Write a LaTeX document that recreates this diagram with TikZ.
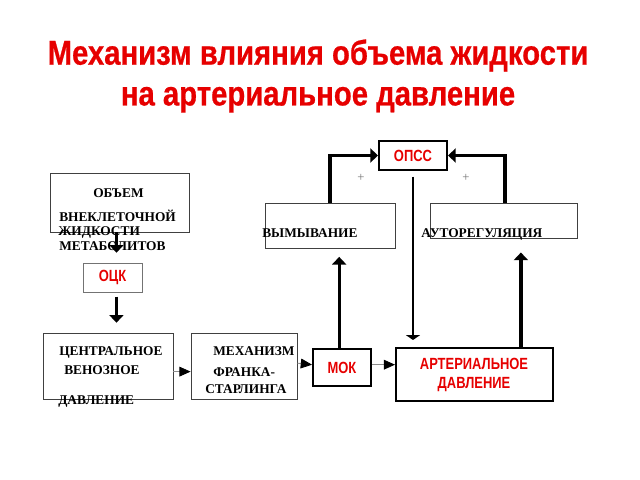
\documentclass[tikz,border=0pt]{standalone}
\usepackage{fontspec}
\setmainfont{Liberation Serif}
\newfontfamily\redfont[FakeStretch=0.8]{Liberation Sans}
\newfontfamily\headfont[FakeStretch=0.85,FakeBold=0.6]{Liberation Sans}
\usetikzlibrary{arrows.meta,fit}

\definecolor{schemered}{RGB}{230,0,0}

\tikzset{
    box/.style={draw=black!75, line width=0.6pt, inner sep=0pt},
    keybox/.style={draw=black, line width=1.4pt, inner sep=0pt},
    lbl/.style={font=\bfseries\fontsize{9.5}{10}\selectfont, inner sep=0pt, anchor=base west},
    redlbl/.style={font=\redfont\bfseries\fontsize{11.5}{13}\selectfont, text=schemered, inner sep=0pt, align=center},
    fat/.style={line width=2.3pt, -{Triangle[length=5.5pt,width=10pt]}},
    slim/.style={draw=black!45, line width=0.6pt, -{Triangle[length=8pt,width=7pt,fill=black,color=black]}},
    mid/.style={line width=1.2pt, -{Triangle[length=3.5pt,width=10pt]}},
    plus/.style={font=\fontsize{9}{9}\selectfont, text=black!55, inner sep=0pt}
}

\begin{document}
\begin{tikzpicture}[x=0.025cm, y=-0.025cm]
    \useasboundingbox (0,0) rectangle (640,480);

    % title
    \node[font=\headfont\bfseries\fontsize{24.5}{29}\selectfont, text=schemered, align=center] (title) at (318,76)
        {Механизм влияния объема жидкости\\на артериальное давление};

    % boxes
    \node[box, fit={(50,173) (189,232)}] (obem) {};
    \node[box, draw=black!55, fit={(83,263) (142,292)}] (ock) {};
    \node[box, fit={(43,333) (173,399)}] (cvd) {};
    \node[box, fit={(191,333) (297,399)}] (frank) {};
    \node[keybox, fit={(313,349) (371,386)}] (mok) {};
    \node[keybox, fit={(396,348) (553,401)}] (ad) {};
    \node[box, fit={(265,203) (395,248)}] (vym) {};
    \node[box, fit={(430,203) (577,238)}] (auto) {};
    \node[keybox, fit={(379,141) (447,170)}] (opss) {};

    % texts
    \node[lbl] (obemA) at (93,197) {ОБЪЕМ};
    \node[lbl] (obemB) at (59,221) {ВНЕКЛЕТОЧНОЙ};
    \node[lbl] (obemC) at (58,235) {ЖИДКОСТИ};
    \node[lbl] (obemD) at (59,250) {МЕТАБОЛИТОВ};
    \node[lbl] (cvdA) at (59,355) {ЦЕНТРАЛЬНОЕ};
    \node[lbl] (cvdB) at (64,374) {ВЕНОЗНОЕ};
    \node[lbl] (cvdC) at (58,404) {ДАВЛЕНИЕ};
    \node[lbl] (frankA) at (213,355) {МЕХАНИЗМ};
    \node[lbl] (frankB) at (213,376) {ФРАНКА-};
    \node[lbl] (frankC) at (205,393) {СТАРЛИНГА};
    \node[lbl] (vymA) at (262,237) {ВЫМЫВАНИЕ};
    \node[lbl] (autoA) at (421,237) {АУТОРЕГУЛЯЦИЯ};
    \node[redlbl] (ockA) at (ock.center) {ОЦК};
    \node[redlbl] (mokA) at (mok.center) {МОК};
    \node[redlbl] (adA) at (474,375) {АРТЕРИАЛЬНОЕ\\ДАВЛЕНИЕ};
    \node[redlbl] (opssA) at (opss.center) {ОПСС};
    \node[plus] (plusL) at (361,178) {+};
    \node[plus] (plusR) at (466,178) {+};

    % connectors
    \draw[fat, shorten >=7pt] ([xshift=2.8pt]ock.north |- obem.south) -- ([xshift=2.8pt]ock.north);
    \draw[fat, shorten <=3pt, shorten >=7pt] ([xshift=2.8pt]ock.south) -- ([xshift=2.8pt]ock.south |- cvd.north);
    \draw[slim] ([yshift=-4pt]cvd.east) -- ([yshift=-4pt]frank.west);
    \draw[slim] ([yshift=2pt]frank.east) -- ([yshift=2pt]mok.west);
    \draw[slim] ([yshift=2pt]mok.east) -- ([yshift=2pt]mok.east -| ad.west);
    \draw[fat, shorten >=6pt] ([xshift=-2pt]mok.north) -- ([xshift=-2pt]mok.north |- vym.south);
    \draw[fat, shorten >=10pt] ([xshift=33pt]ad.north) -- ([xshift=33pt]ad.north |- auto.south);
    \draw[fat] (vym.north) |- (opss.west);
    \draw[fat] ([xshift=1pt]auto.north) |- (opss.east);
    \draw[mid, shorten <=4pt, shorten >=5pt] (opss.south) -- (opss.south |- ad.north);
\end{tikzpicture}
\end{document}
